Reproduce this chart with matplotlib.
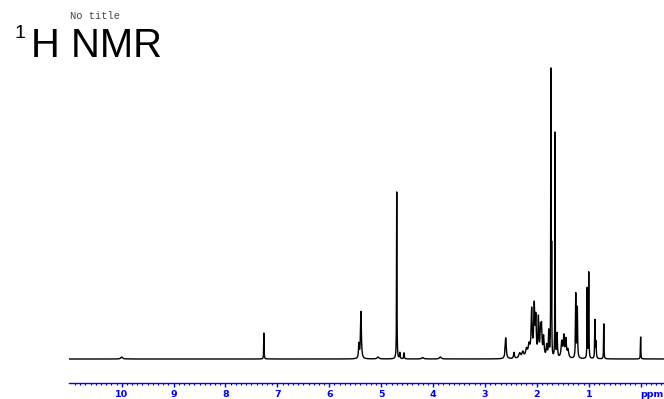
import numpy as np
import matplotlib
matplotlib.use("Agg")
import matplotlib.pyplot as plt

# Peak list: position (ppm), height (relative units), half-width (ppm)
peak_ppm = [10.00, 7.26, 5.43, 5.39, 5.06, 4.70, 4.64, 4.56, 4.20, 3.86,
            2.60, 2.44, 2.33, 2.27, 2.20, 2.15, 2.10, 2.05, 2.02, 1.97,
            1.93, 1.91, 1.87, 1.81, 1.77, 1.73, 1.715, 1.65, 1.61, 1.52,
            1.48, 1.44, 1.40, 1.25, 1.22, 1.03, 1.00, 0.88, 0.86, 0.71, 0.00]
peak_height = [2, 26, 14, 47, 2, 167, 6, 6, 1.5, 2,
               21, 6, 5, 6, 8, 12, 46, 50, 36, 38,
               26, 28, 20, 12, 26, 285, 105, 225, 24, 16,
               21, 18, 8, 64, 50, 70, 86, 38, 16, 35, 22]
peak_width = [0.02, 0.004, 0.008, 0.01, 0.02, 0.004, 0.006, 0.006, 0.02, 0.02,
              0.012, 0.01, 0.02, 0.02, 0.02, 0.02, 0.012, 0.012, 0.01, 0.01,
              0.01, 0.01, 0.012, 0.012, 0.008, 0.003, 0.003, 0.003, 0.008, 0.015,
              0.012, 0.012, 0.015, 0.006, 0.006, 0.004, 0.004, 0.005, 0.006, 0.004, 0.004]

major_ticks = [10, 9, 8, 7, 6, 5, 4, 3, 2, 1, 0]
major_labels = ["10", "9", "8", "7", "6", "5", "4", "3", "2", "1", "ppm"]

x_left, x_right = 11.01, -0.45

fig = plt.figure(figsize=(6.64, 3.99), dpi=100)
ax = fig.add_axes([69.3 / 664, 1 - 382.7 / 399, 1 - 69.3 / 664, (382.7 - 60) / 399])

ppm = np.linspace(x_right, x_left, 24000)
spec = np.zeros_like(ppm)
for c, h, w in zip(peak_ppm, peak_height, peak_width):
    spec += h / (1 + ((ppm - c) / w) ** 2)

ax.plot(ppm, spec, color="black", lw=1.0)
ax.set_xlim(x_left, x_right)
ax.set_ylim(-23.7, 299)

for s in ["top", "left", "right"]:
    ax.spines[s].set_visible(False)
ax.spines["bottom"].set_color("#0000ff")
ax.spines["bottom"].set_linewidth(1.0)
ax.set_yticks([])
ax.set_xticks(major_ticks)
ax.set_xticklabels(major_labels)
ax.set_xticks(np.arange(-0.4, 11.0, 0.1), minor=True)
ax.tick_params(axis="x", which="major", direction="out", length=3.0, width=1.0,
               color="#0000ff", labelcolor="#0000ff", pad=2.0)
ax.tick_params(axis="x", which="minor", direction="out", length=1.6, width=0.8,
               color="#0000ff")
for lab in ax.get_xticklabels():
    lab.set_fontweight("bold")
    lab.set_fontsize(6.8)
    lab.set_family("DejaVu Sans")
ax.get_xticklabels()[-1].set_horizontalalignment("left")

fig.text(70 / 664, 1 - 16 / 399, "No title", family="Liberation Mono", fontsize=7.5,
         color="#444444", ha="left", va="center")
fig.text(15 / 664, 1 - 25 / 399, "1", family="Liberation Sans", fontsize=14,
         color="black", ha="left", va="top")
fig.text(31 / 664, 1 - 57 / 399, "H NMR", family="Liberation Sans", fontsize=28.8,
         color="black", ha="left", va="baseline")

fig.savefig("out.png", dpi=100)
